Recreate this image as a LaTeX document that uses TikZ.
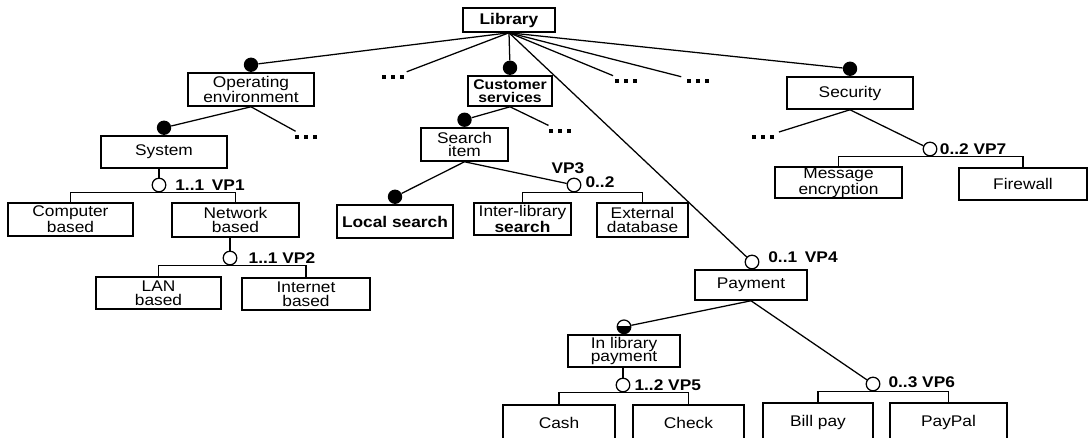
\documentclass[tikz,border=0pt]{standalone}
\usepackage{fontspec}
\setmainfont{Liberation Sans}[FakeStretch=1.12]
\usetikzlibrary{positioning}
\newcommand{\featfont}{\fontsize{11}{9.8}\selectfont}
\newcommand{\moredots}{\rule{2.9pt}{2.9pt}\hspace{3.5pt}\rule{2.9pt}{2.9pt}\hspace{3.5pt}\rule{2.9pt}{2.9pt}}

\begin{document}
\begin{tikzpicture}[
    x=0.25mm, y=-0.25mm,
    feat/.style={draw, line width=1.1pt, align=center, inner sep=0pt, font=\featfont},
    sz/.style 2 args={minimum width=#1*0.25mm, minimum height=#2*0.25mm},
    mand/.style={circle, fill=black, inner sep=0pt, minimum size=3.6mm},
    halfmand/.style={circle, draw, line width=0.9pt, inner sep=0pt, minimum size=3.4mm,
      path picture={\fill ([yshift=0.3mm]path picture bounding box.west) rectangle (path picture bounding box.south east);}},
    vp/.style={circle, draw, line width=0.9pt, fill=white, inner sep=0pt, minimum size=3.4mm},
    vplab/.style={font=\featfont\bfseries, inner sep=1pt},
    more/.style={inner sep=1pt, font=\featfont},
    link/.style={line width=0.9pt},
    todots/.style={link, shorten >=3pt}
  ]
  \useasboundingbox (0,0) rectangle (1092,437);

  % features
  \node[feat, sz={92}{24}, font=\featfont\bfseries] (lib) at (509,20) {Library};
  \node[feat, sz={126}{33}] (oe) at (251,89.5) {Operating\\environment};
  \node[feat, sz={84}{30}, font=\fontsize{10}{9.6}\selectfont\bfseries] (cs) at (510,91) {Customer\\services};
  \node[feat, sz={126}{32}] (sec) at (850,93) {Security};
  \node[feat, sz={126}{32}] (sys) at (164,152) {System};
  \node[feat, sz={87}{33}] (si) at (464.5,144.5) {Search\\item};
  \node[feat, sz={125}{33}] (comp) at (70.5,219.5) {Computer\\based};
  \node[feat, sz={127}{34}] (net) at (235.5,220) {Network\\based};
  \node[feat, sz={125}{32}] (lan) at (158.5,293) {LAN\\based};
  \node[feat, sz={128}{32}] (inet) at (306,294) {Internet\\based};
  \node[feat, sz={116}{33}, font=\featfont\bfseries] (loc) at (395,221.5) {Local search};
  \node[feat, sz={97}{32}] (inter) at (522.5,219) {Inter-library\\\textbf{search}};
  \node[feat, sz={91}{34}] (ext) at (642.5,220) {External\\database};
  \node[feat, sz={127}{31}] (msg) at (838.5,182.5) {Message\\encryption};
  \node[feat, sz={128}{32}] (fw) at (1023,184) {Firewall};
  \node[feat, sz={112}{30}] (pay) at (751,285) {Payment};
  \node[feat, sz={112}{32}] (inlib) at (624,351) {In library\\payment};
  \node[feat, sz={112}{36}] (cash) at (559,423) {Cash};
  \node[feat, sz={111}{36}] (check) at (688.5,423) {Check};
  \node[feat, sz={110}{38}] (bill) at (818,422) {Bill pay};
  \node[feat, sz={117}{38}] (paypal) at (948.5,422) {PayPal};

  % mandatory marks
  \node[mand, above=0pt of oe] (oe-d) {};
  \node[mand, above=0pt of cs] (cs-d) {};
  \node[mand, above=0pt of sec] (sec-d) {};
  \node[mand, above=0pt of sys] (sys-d) {};
  \node[mand, above=0pt of si] (si-d) {};
  \node[mand, above=0pt of loc] (loc-d) {};
  \node[halfmand, above=0pt of inlib] (inlib-d) {};

  % elided features
  \node[more] (lib-m1) at (393,77) {\moredots};
  \node[more] (lib-m2) at (626,81) {\moredots};
  \node[more] (lib-m3) at (698,81) {\moredots};
  \node[more] (oe-m) at (306,137) {\moredots};
  \node[more] (cs-m) at (560,131) {\moredots};
  \node[more] (sec-m) at (763,137) {\moredots};

  % variation points
  \node[vp] (vp1) at (159,185) {};
  \node[vp] (vp2) at (230,258) {};
  \node[vp] (vp3) at (574,185) {};
  \node[vp] (vp4) at (752,262) {};
  \node[vp] (vp5) at (623,385) {};
  \node[vp] (vp6) at (873,384) {};
  \node[vp] (vp7) at (930,149) {};

  \node[vplab, right=1.8mm of vp1] (vp1-lab) {1..1\enspace VP1};
  \node[vplab, right=2.4mm of vp2] (vp2-lab) {1..1 VP2};
  \node[vplab, above=0.5mm of vp3, xshift=-1.5mm] (vp3-lab) {VP3};
  \node[vplab, right=0.6mm of vp3, yshift=0.7mm] (vp3-card) {0..2};
  \node[vplab, right=1.8mm of vp4, yshift=1.2mm] (vp4-lab) {0..1\enspace VP4};
  \node[vplab, right=0.6mm of vp5] (vp5-lab) {1..2 VP5};
  \node[vplab, right=1.6mm of vp6, yshift=0.4mm] (vp6-lab) {0..3 VP6};
  \node[vplab, right=0.2mm of vp7] (vp7-lab) {0..2 VP7};

  % connectors
  \draw[link] (lib.south) -- (oe-d);
  \draw[todots] (lib.south) -- (lib-m1);
  \draw[link] (lib.south) -- (cs-d);
  \draw[link] (lib.south) -- (vp4);
  \draw[todots] (lib.south) -- (lib-m2);
  \draw[todots] (lib.south) -- (lib-m3);
  \draw[link] (lib.south) -- (sec-d);

  \draw[link] (oe.south) -- (sys-d);
  \draw[todots] (oe.south) -- (oe-m);
  \draw[link] (sys.south -| vp1) -- (vp1);
  \draw[link] (comp.north) |- (vp1.south) -| (net.north);
  \draw[link] (net.south -| vp2) -- (vp2);
  \draw[link] (lan.north) |- (vp2.south) -| (inet.north);

  \draw[link] (cs.south) -- (si-d);
  \draw[todots] (cs.south) -- (cs-m);
  \draw[link] (si.south) -- (loc-d);
  \draw[link] (si.south) -- (vp3);
  \draw[link] (inter.north) |- (vp3.south) -| (ext.north);

  \draw[link] (sec.south) -- (vp7);
  \draw[todots] (sec.south) -- (sec-m);
  \draw[link] (msg.north) |- (vp7.south) -| (fw.north);

  \draw[link] (vp4) -- (vp4 |- pay.north);
  \draw[link] (pay.south) -- (inlib-d);
  \draw[link] (pay.south) -- (vp6);
  \draw[link] (inlib.south -| vp5) -- (vp5);
  \draw[link] (cash.north) |- (vp5.south) -| (check.north);
  \draw[link] (bill.north) |- (vp6.south) -| (paypal.north);
\end{tikzpicture}
\end{document}
